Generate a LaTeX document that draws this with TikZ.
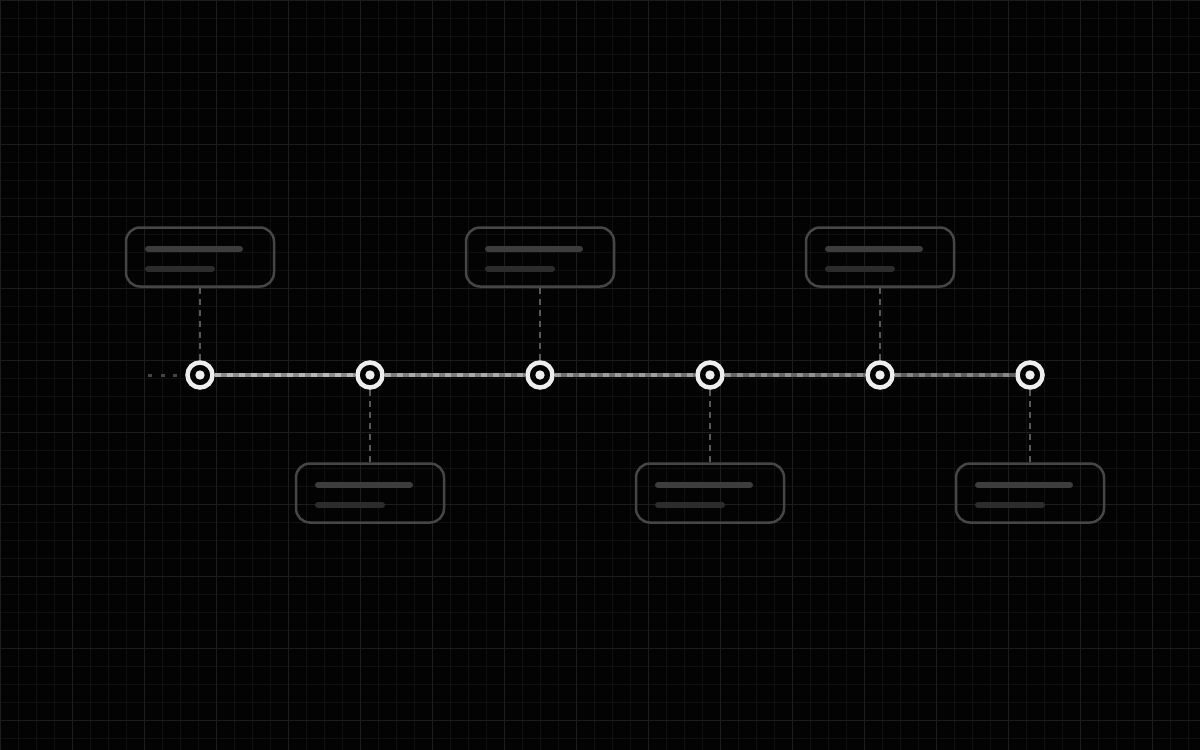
\documentclass[tikz,border=0pt]{standalone}
\usepackage{tikz}
\usetikzlibrary{calc}
\definecolor{bgcol}{HTML}{030303}
\definecolor{gridminor}{HTML}{101010}
\definecolor{gridmajor}{HTML}{1D1D1D}
\definecolor{ringcol}{HTML}{EEEEEE}
\definecolor{cardline}{HTML}{464646}
\definecolor{barlight}{HTML}{3D3D3D}
\definecolor{bardark}{HTML}{2C2C2C}
\definecolor{stemcol}{HTML}{585858}
\definecolor{leadcol}{HTML}{444444}
\def\card(#1)(#2,#3){\node[card] (#1) at (#2,#3) {};
	\draw[barlong] ([shift={(-52,-8)}]#1.center) -- ++(92,0);
	\draw[barshort] ([shift={(-52,12)}]#1.center) -- ++(64,0);}

\begin{document}
\begin{tikzpicture}[x=1pt, y=-1pt,
	ring/.style={circle, draw=ringcol, fill=bgcol, line width=4.5pt, minimum size=25pt, inner sep=0pt,
		path picture={\fill[ringcol] (path picture bounding box.center) circle (4.7pt);}},
	card/.style={rectangle, rounded corners=14pt, draw=cardline, line width=2.5pt, minimum width=148pt, minimum height=59pt, inner sep=0pt},
	barlong/.style={barlight, line width=6pt, line cap=round},
	barshort/.style={bardark, line width=6pt, line cap=round},
	stem/.style={stemcol, line width=2.5pt, dash pattern=on 6pt off 5pt},
	seg/.style 2 args={line width=4.5pt, draw=#1, postaction={draw=#2, dash pattern=on 6pt off 6pt}}]
			%%%%% START %%%%%
			\useasboundingbox (0,0) rectangle (1200,750);
			\fill[bgcol] (0,0) rectangle (1200,750);
			\draw[gridminor, line width=1pt, step=18pt] (0,0) grid (1200,750);
			\draw[gridmajor, line width=1pt, step=72pt] (0,0) grid (1200,750);
			
			\node[ring] (t1) at (200,375) {};
			\node[ring] (t2) at (370,375) {};
			\node[ring] (t3) at (540,375) {};
			\node[ring] (t4) at (710,375) {};
			\node[ring] (t5) at (880,375) {};
			\node[ring] (t6) at (1030,375) {};
			
			\coordinate (lead) at (148,375);
			\draw[leadcol, line width=3pt, dash pattern=on 4pt off 8.5pt] (lead) -- (t1);
			
			\draw[seg={white!54!black}{white!72!black}] (t1) -- (t2);
			\draw[seg={white!49!black}{white!67!black}] (t2) -- (t3);
			\draw[seg={white!44!black}{white!62!black}] (t3) -- (t4);
			\draw[seg={white!40!black}{white!57!black}] (t4) -- (t5);
			\draw[seg={white!37!black}{white!53!black}] (t5) -- (t6);
			
			\card(b1)(200,257)
			\card(b2)(370,493)
			\card(b3)(540,257)
			\card(b4)(710,493)
			\card(b5)(880,257)
			\card(b6)(1030,493)
			
			\draw[stem] (b1) -- (t1);
			\draw[stem] (t2) -- (b2);
			\draw[stem] (b3) -- (t3);
			\draw[stem] (t4) -- (b4);
			\draw[stem] (b5) -- (t5);
			\draw[stem] (t6) -- (b6);
			%%%%% END %%%%%
\end{tikzpicture}
\end{document}
